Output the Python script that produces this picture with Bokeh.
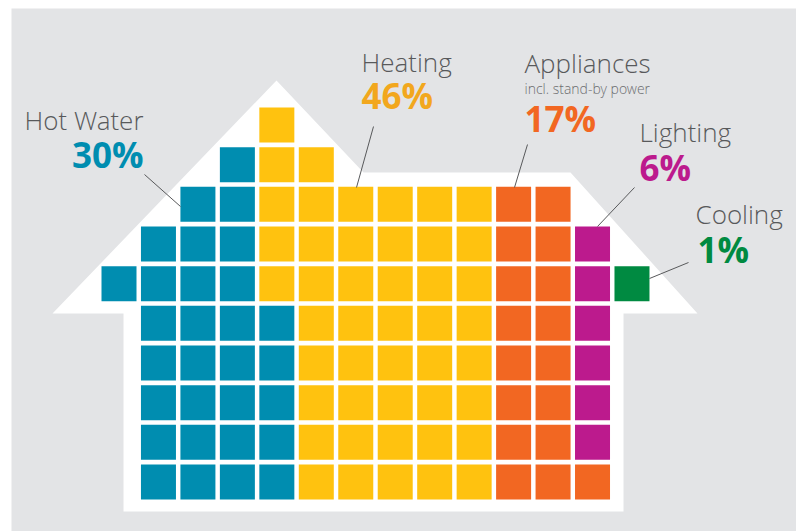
from bokeh.plotting import figure
from bokeh.models import Range1d, ColumnDataSource
from bokeh.core.properties import value
from bokeh.embed import file_html
from bokeh.resources import INLINE

# ---- data ----
categories = ["Hot Water", "Heating", "Appliances", "Lighting", "Cooling"]
shares = [30, 46, 17, 6, 1]
pct_labels = ["30%", "46%", "17%", "6%", "1%"]
sub_labels = ["", "", "incl. stand-by power", "", ""]
cell_colors = ["#008db0", "#ffc20f", "#f26722", "#bc1a8d", "#008a41"]
pct_colors = ["#008db0", "#f2a71d", "#f26722", "#bc1a8d", "#008a41"]

# house-shaped waffle: for every column, top and bottom row of cells
col_top_row = [4, 3, 2, 1, 0, 1, 2, 2, 2, 2, 2, 2, 3, 4]
col_bottom_row = [4, 9, 9, 9, 9, 9, 9, 9, 9, 9, 9, 9, 9, 4]

# ---- layout (pixels) ----
W, H = 796, 531
X0, Y0 = 118.5, 124.5     # centre of column 0 / row 0
PX, PY = 39.46, 39.67     # pitch
CELL = 35

# fill cells column by column, bottom to top
slots = []
for c, (t, b) in enumerate(zip(col_top_row, col_bottom_row)):
    for r in range(b, t - 1, -1):
        slots.append((c, r))
cat_of_slot = []
for i, s in enumerate(shares):
    cat_of_slot += [i] * s
xs = [X0 + PX * c for c, r in slots]
ys = [Y0 + PY * r for c, r in slots]
cols = [cell_colors[k] for k in cat_of_slot]

p = figure(width=W, height=H, x_range=Range1d(0, W), y_range=Range1d(H, 0),
           output_backend="svg", toolbar_location=None, min_border=0)
p.axis.visible = False
p.grid.visible = False
p.outline_line_color = None
p.background_fill_color = "white"
p.border_fill_color = "white"

# grey panel
p.quad(left=[11], right=[W], top=[8], bottom=[H], fill_color="#e3e4e6", line_color=None)

# house silhouette
house_x = [52, 276, 363, 570, 697, 623, 623, 123, 123]
house_y = [313, 80, 172, 172, 313, 313, 511, 511, 313]
p.patch(house_x, house_y, fill_color="white", line_color=None)

# waffle cells
p.rect(x=xs, y=ys, width=CELL, height=CELL, fill_color=cols, line_color=None)

# leader lines
lx0 = [144, 373, 527, 634, 688]
ly0 = [174, 126, 144, 187, 262]
lx1 = [180, 356, 514, 597, 649]
ly1 = [206, 187, 187, 226, 278]
p.segment(x0=lx0, y0=ly0, x1=lx1, y1=ly1, line_color="#58595b", line_width=1)

# labels (y = baseline)
name_x = [143, 361, 524, 639, 695]
name_y = [130, 72, 73, 142, 224]
name_align = ["right", "left", "left", "left", "left"]
pct_x = [143, 361, 524, 639, 697]
pct_y = [169, 110, 133, 182, 264]

light = value("Open Sans Light")
p.text(x=name_x, y=name_y, text=categories, text_align=name_align,
       text_baseline="alphabetic", text_font=light, text_font_size="26px",
       text_color="#58595b", y_offset=-11)
p.text(x=pct_x, y=pct_y, text=pct_labels, text_align=name_align,
       text_baseline="alphabetic", text_font=value("Open Sans"),
       text_font_style="bold", text_font_size="35px", text_color=pct_colors,
       y_offset=-15)
sub_src = ColumnDataSource(dict(x=[524], y=[94], t=[s for s in sub_labels if s]))
p.text(x="x", y="y", text="t", source=sub_src, text_align="left",
       text_baseline="alphabetic", text_font=light, text_font_size="14px",
       text_color="#6d6e71", y_offset=-6)

open("out.html", "w").write(file_html(p, INLINE))
